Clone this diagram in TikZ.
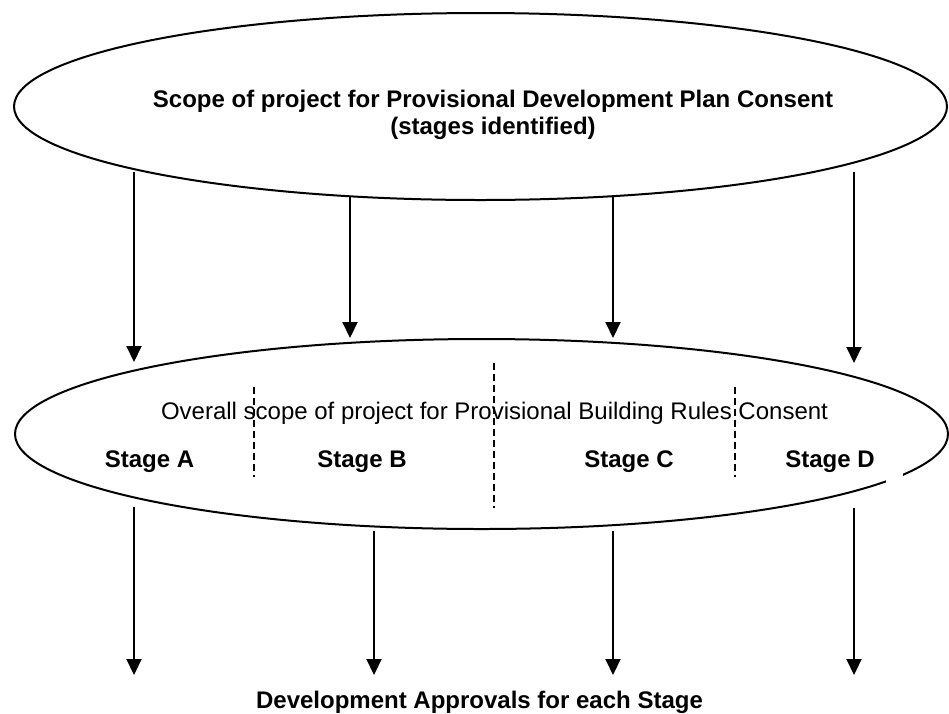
\documentclass[tikz,border=0pt]{standalone}
\usepackage{fontspec}
\setmainfont{Liberation Sans}
\usetikzlibrary{arrows.meta,shapes.geometric}
\begin{document}
\begin{tikzpicture}[x=1pt,y=-1pt,
  oval/.style={draw, line width=2pt, ellipse, inner sep=0pt},
  flow/.style={line width=2pt, -{Triangle[length=16pt,width=15pt]}},
  divider/.style={line width=1.2pt, dash pattern=on 7pt off 4pt},
  lbl/.style={font=\fontsize{24}{27.6}\selectfont, anchor=base, inner sep=0pt},
  blbl/.style={lbl, font=\fontsize{24}{27.6}\selectfont\bfseries}]
\useasboundingbox (0,0) rectangle (949,713);
% ellipses
\node[oval, minimum width=933pt, minimum height=187pt] (plan) at (480.5,106.5) {};
\node[oval, minimum width=933pt, minimum height=190pt] (rules) at (481.5,434) {};
\fill[white] (886,470) rectangle (903,490);
% texts
\node[blbl, align=center] (plantxt) at (493,134.6) {Scope of project for Provisional Development Plan Consent\\(stages identified)};
\node[lbl] (rulestxt) at (494.5,419) {Overall scope of project for Provisional Building Rules Consent};
\node[blbl] (sa) at (149.5,467.5) {Stage A};
\node[blbl] (sb) at (362,467.5) {Stage B};
\node[blbl] (sc) at (629,467.5) {Stage C};
\node[blbl] (sd) at (830,467.5) {Stage D};
\node[blbl] (appr) at (479.5,708) {Development Approvals for each Stage};
% dividers
\coordinate (d1a) at (254,387); \coordinate (d1b) at (254,477);
\coordinate (d2a) at (494,363); \coordinate (d2b) at (494,508);
\coordinate (d3a) at (735,387); \coordinate (d3b) at (735,477);
\draw[divider] (d1a) -- (d1b);
\draw[divider] (d2a) -- (d2b);
\draw[divider] (d3a) -- (d3b);
% arrows from plan to rules
\coordinate (p1) at (134,172); \coordinate (r1) at (134,362);
\coordinate (p2) at (350,197); \coordinate (r2) at (350,338);
\coordinate (p3) at (613,197); \coordinate (r3) at (613,338);
\coordinate (p4) at (854,172); \coordinate (r4) at (854,363);
\draw[flow] (p1) -- (r1);
\draw[flow] (p2) -- (r2);
\draw[flow] (p3) -- (r3);
\draw[flow] (p4) -- (r4);
% arrows to approvals
\coordinate (q1) at (134,507); \coordinate (a1) at (134,675);
\coordinate (q2) at (374,531); \coordinate (a2) at (374,675);
\coordinate (q3) at (613,531); \coordinate (a3) at (613,675);
\coordinate (q4) at (854,508); \coordinate (a4) at (854,675);
\draw[flow] (q1) -- (a1);
\draw[flow] (q2) -- (a2);
\draw[flow] (q3) -- (a3);
\draw[flow] (q4) -- (a4);
\end{tikzpicture}
\end{document}
